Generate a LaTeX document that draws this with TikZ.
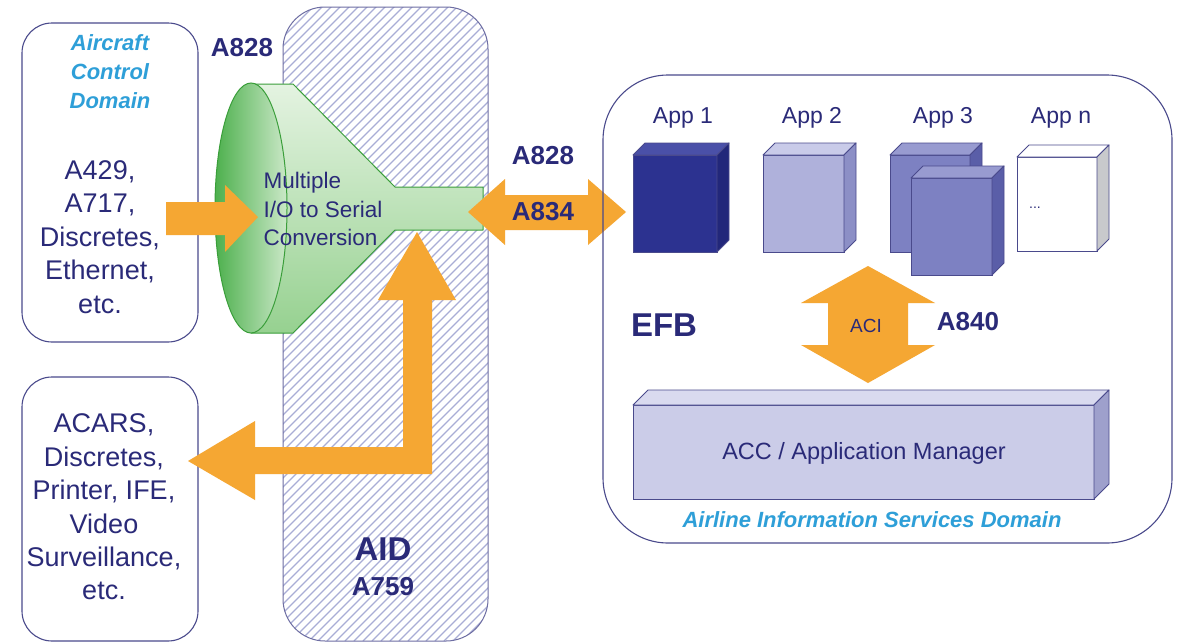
\documentclass[tikz,border=0pt]{standalone}
\usepackage{fontspec}
\setmainfont{Liberation Sans}
\definecolor{navy}{HTML}{2A2A78}
\definecolor{skyb}{HTML}{2E9FD8}
\definecolor{orng}{HTML}{F5A733}
\definecolor{boxline}{HTML}{4A4A8C}
\definecolor{hatchc}{HTML}{A9ADD6}
\definecolor{gline}{HTML}{3A9E3A}
\definecolor{gdark}{HTML}{4DB04D}
\definecolor{gmid}{HTML}{96D190}
\definecolor{glight}{HTML}{E4F3E1}
\definecolor{aoneF}{HTML}{2C3290}
\definecolor{aoneT}{HTML}{4A50A8}
\definecolor{aoneS}{HTML}{22277A}
\definecolor{atwoF}{HTML}{AFB1DB}
\definecolor{atwoT}{HTML}{C9CBE9}
\definecolor{atwoS}{HTML}{8C8FC6}
\definecolor{athrF}{HTML}{7D81C2}
\definecolor{athrT}{HTML}{989BD0}
\definecolor{athrS}{HTML}{5A5EA8}
\definecolor{anS}{HTML}{C8C9CC}
\definecolor{accF}{HTML}{CBCCE8}
\definecolor{accT}{HTML}{D9DAEF}
\definecolor{accS}{HTML}{9EA0CC}
\newcommand\drawblock[8]{%
  \begin{scope}[shift={(#1,#2)}]
    \filldraw[fill=#6,draw=boxline,line width=0.9pt] (0,0) rectangle (#3,#4);
    \filldraw[fill=#7,draw=boxline,line width=0.9pt,line join=round] (0,0) -- (#5,-#5) -- (#3+#5,-#5) -- (#3,0) -- cycle;
    \filldraw[fill=#8,draw=boxline,line width=0.9pt,line join=round] (#3,0) -- (#3+#5,-#5) -- (#3+#5,#4-#5) -- (#3,#4) -- cycle;
  \end{scope}}
\begin{document}
\begin{tikzpicture}[x=1pt,y=-1pt,
  frame/.style={draw=boxline,line width=1.1pt},
  lbl/.style={text=navy,font=\fontsize{27}{33.4}\selectfont,align=center},
  dom/.style={text=skyb,font=\fontsize{22}{29}\selectfont\bfseries\itshape,align=center},
  bold/.style={text=navy,font=\fontsize{26}{30}\selectfont\bfseries},
  app/.style={text=navy,font=\fontsize{23}{26}\selectfont},
  orangearrow/.style={fill=orng,draw=none}]
\useasboundingbox (0,0) rectangle (1177,643);
\fill[white] (0,0) rectangle (1177,643);

% left boxes
\draw[frame,rounded corners=30] (22,23) rectangle (198,342);
\draw[frame,rounded corners=30] (22,377) rectangle (198,641);
\node[dom] (acd) at (110,72) {Aircraft\\Control\\Domain};
\node[lbl] (inputs) at (100,237) {A429,\\A717,\\Discretes,\\Ethernet,\\etc.};
\node[lbl] (outputs) at (104,507) {ACARS,\\Discretes,\\Printer, IFE,\\Video\\Surveillance,\\etc.};

% AID hatched box
\begin{scope}
  \clip[rounded corners=42] (283,7) rectangle (488,641);
  \foreach \k in {0,...,95} {
    \draw[hatchc,line width=1.3pt] ({283-640+9*\k},641) -- ({283+9*\k},1);
  }
\end{scope}
\draw[draw=boxline!80,line width=1pt,rounded corners=42] (283,7) rectangle (488,641);
\node[text=navy,font=\fontsize{33}{36}\selectfont\bfseries] (aid) at (383,549) {AID};
\node[bold] (a759) at (383,587) {A759};
\node[bold] (a828a) at (242,48) {A828};

% funnel
\path[top color=glight,bottom color=gmid,draw=gline,line width=1pt,line join=round]
  (251,84) -- (293,84) -- (395,187) -- (483,187) -- (483,230) -- (395,230) -- (293,333) -- (251,333) -- cycle;
\path[left color=gdark,right color=gmid!50!white,draw=gline,line width=1pt]
  (251,208) ellipse [x radius=36, y radius=125];
\node[text=navy,font=\fontsize{22.5}{28.5}\selectfont,align=left,anchor=west] (conv) at (260,209) {Multiple\\I/O to Serial\\Conversion};

% orange arrows
\fill[orangearrow] (166,202) -- (225,202) -- (225,185) -- (258,217) -- (225,252) -- (225,235) -- (166,235) -- cycle;
\fill[orangearrow] (417,232) -- (456,300) -- (432,300) -- (432,474) -- (255,474) -- (255,500) -- (188,461) -- (255,421) -- (255,447) -- (403,447) -- (403,300) -- (378,300) -- cycle;
\fill[orangearrow] (468,212) -- (505,179) -- (505,195) -- (588,195) -- (588,179) -- (626,212) -- (588,245) -- (588,230) -- (505,230) -- (505,245) -- cycle;
\node[bold] (a828b) at (543,156) {A828};
\node[bold] (a834) at (543,212) {A834};

% EFB domain
\draw[frame,rounded corners=65] (603,75) rectangle (1172,543);
\node[app] (l1) at (683,118) {App 1};
\node[app] (l2) at (812,118) {App 2};
\node[app] (l3) at (943,118) {App 3};
\node[app] (ln) at (1061,118) {App n};
\drawblock{633}{155}{84}{97}{12}{aoneF}{aoneT}{aoneS}
\drawblock{763}{155}{81}{97}{12}{atwoF}{atwoT}{atwoS}
\drawblock{890}{155}{80}{97}{12}{athrF}{athrT}{athrS}
\drawblock{911}{178}{81}{97}{12}{athrF}{athrT}{athrS}
\drawblock{1017}{157}{80}{94}{12}{white}{white}{anS}
\node[text=navy,font=\fontsize{14}{14}\selectfont] (dots) at (1035,208) {...};

\fill[orangearrow] (868,266) -- (935,303) -- (908,303) -- (908,345) -- (935,345) -- (868,383) -- (801,345) -- (828,345) -- (828,303) -- (801,303) -- cycle;
\node[text=navy,font=\fontsize{19}{20}\selectfont] (aci) at (866,326) {ACI};
\node[bold] (a840) at (968,322) {A840};
\node[text=navy,font=\fontsize{33}{36}\selectfont\bfseries] (efb) at (664,325) {EFB};

\drawblock{633}{405}{461}{94}{15}{accF}{accT}{accS}
\node[text=navy,font=\fontsize{23.5}{26}\selectfont] (acc) at (864,453) {ACC / Application Manager};
\node[dom] (aisd) at (872,520) {Airline Information Services Domain};
\end{tikzpicture}
\end{document}
